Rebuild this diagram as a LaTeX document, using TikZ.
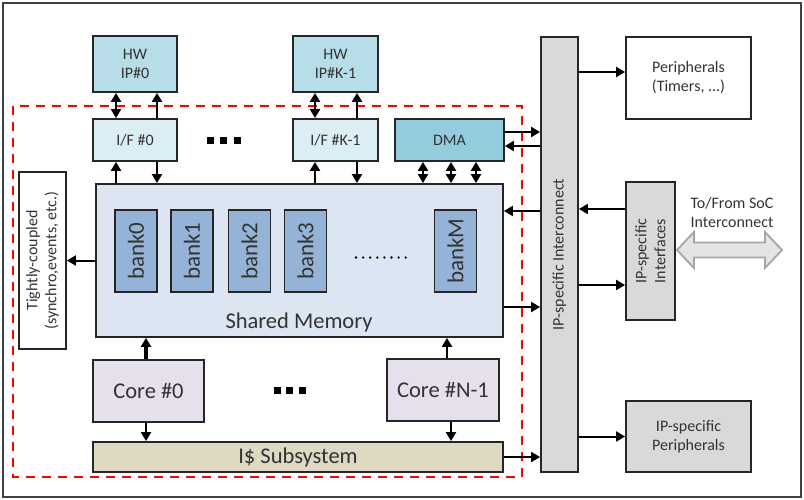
\documentclass[tikz,border=0pt]{standalone}
\usepackage{fontspec}
\setmainfont{Carlito}
\usepackage{tikz}
\usetikzlibrary{arrows.meta}
\usepackage{xcolor}
\definecolor{hwfill}{HTML}{B7DDE8}
\definecolor{iffill}{HTML}{DAEEF3}
\definecolor{dmafill}{HTML}{93CDDD}
\definecolor{memfill}{HTML}{DCE6F2}
\definecolor{bankfill}{HTML}{95B3D7}
\definecolor{corefill}{HTML}{E5E0EC}
\definecolor{icfill}{HTML}{DDD9C3}
\definecolor{grayfill}{HTML}{D9D9D9}
\definecolor{txt}{HTML}{333333}

\begin{document}
\begin{tikzpicture}[x=1pt, y=-1pt, >={Triangle[length=9pt,width=10pt]},
  blk/.style={draw=black!85, line width=1.8pt, inner sep=0pt, align=center, text=txt,
    font=\fontsize{16}{19}\selectfont},
  big/.style={font=\fontsize{22.5}{26}\selectfont},
  arr/.style={line width=2pt, ->},
  darr/.style={line width=2pt, <->}]
  \useasboundingbox (0,0) rectangle (804,499);
  % frame and cluster border
  \draw[black!75, line width=1.7pt] (3,3) rectangle (801,497);
  \draw[red, line width=1.8pt, dash pattern=on 9pt off 7pt] (13,106) rectangle (522,477);
  % hardware IPs and their interfaces
  \node[blk, fill=hwfill, minimum width=84pt, minimum height=56pt] (hw0) at (135,64) {HW\\IP\#0};
  \node[blk, fill=hwfill, minimum width=85pt, minimum height=56pt] (hwK) at (335.5,64) {HW\\IP\#K-1};
  \node[blk, fill=iffill, minimum width=84pt, minimum height=42pt] (if0) at (135,140) {I/F \#0};
  \node[blk, fill=iffill, minimum width=85pt, minimum height=42pt] (ifK) at (335.5,140) {I/F \#K-1};
  \node[blk, fill=dmafill, minimum width=109pt, minimum height=42pt] (dma) at (449.5,140) {DMA};
  \foreach \x in {210,223.5,237}
    \fill (\x-3.5,136.5) rectangle (\x+3.5,143.5);
  % shared memory
  \node[blk, fill=memfill, minimum width=407pt, minimum height=153pt] (mem) at (299.5,260.5) {};
  \node[big, text=txt, anchor=base] (memlbl) at (299,328) {Shared Memory};
  \foreach \x/\lab in {136/bank0, 192/bank1, 249.5/bank2, 305.5/bank3, 455.5/bankM}
    \node[blk, fill=bankfill, rotate=90, minimum width=82pt, minimum height=42pt,
      font=\fontsize{23}{26}\selectfont] (\lab) at (\x,251) {\lab};
  \foreach \i in {0,...,7}
    \fill (356+\i*7.1,257.5) circle (1.3pt);
  % tightly-coupled
  \node[blk, minimum width=47pt, minimum height=177pt] (tc) at (42.5,260.5) {};
  \node[rotate=90, align=center, text=txt, font=\fontsize{16}{19}\selectfont] at (tc) {Tightly-coupled\\(synchro,events, etc.)};
  % cores and I$
  \node[blk, big, fill=corefill, minimum width=111pt, minimum height=62pt] (core0) at (148.5,391) {Core \#0};
  \node[blk, big, fill=corefill, minimum width=112pt, minimum height=62pt] (coreN) at (443,390) {Core \#N-1};
  \foreach \x in {277,289.5,302.5}
    \fill (\x-3.5,386.5) rectangle (\x+3.5,393.5);
  \node[blk, big, fill=icfill, minimum width=410pt, minimum height=30pt] (icache) at (298,457) {I\$ Subsystem};
  % interconnect side
  \node[blk, fill=grayfill, minimum width=37pt, minimum height=435pt] (ic) at (559.5,254.5) {};
  \node[rotate=90, text=txt, font=\fontsize{16}{19}\selectfont] at (ic) {IP-specific Interconnect};
  \node[blk, minimum width=125pt, minimum height=82pt] (per) at (688.5,78) {Peripherals\\(Timers, ...)};
  \node[blk, fill=grayfill, minimum width=49pt, minimum height=138pt] (ifc) at (650.5,251) {};
  \node[rotate=90, align=center, text=txt, font=\fontsize{16}{19}\selectfont] at (ifc) {IP-specific\\Interfaces};
  \node[blk, fill=grayfill, minimum width=125pt, minimum height=71pt] (ipper) at (688.5,436.5) {IP-specific\\Peripherals};
  \node[align=center, text=txt, font=\fontsize{16}{19}\selectfont] (soc) at (732,212) {To/From SoC\\Interconnect};
  \coordinate (socL) at (677,250);
  \coordinate (socR) at (782,250);
  \draw[fill=grayfill!70, draw=black!35, line width=1.8pt, line join=miter]
    (socL) -- ++(17,-18) -- ++(0,10.5) -- ++(71,0) -- ++(0,-10.5) -- (socR)
    -- ++(-17,18) -- ++(0,-10.5) -- ++(-71,0) -- ++(0,10.5) -- cycle;
  % IP <-> I/F <-> memory
  \foreach \a/\b/\dl/\dr in {hw0/if0/-19/22, hwK/ifK/-20.5/21.5} {
    \draw[darr] ([xshift=\dl pt]\b.north) -- ([xshift=\dl pt]\a.south);
    \draw[arr] ([xshift=\dr pt]\b.north) -- ([xshift=\dr pt]\a.south);
    \draw[arr] ([xshift=\dl pt]\b.south |- mem.north) -- ([xshift=\dl pt]\b.south);
    \draw[arr] ([xshift=\dr pt]\b.south) -- ([xshift=\dr pt]\b.south |- mem.north);
  }
  % DMA
  \draw[arr] ([yshift=8pt]dma.east) -- ([yshift=8pt]dma.east -| ic.west);
  \draw[arr] ([yshift=-6pt]dma.east -| ic.west) -- ([yshift=-6pt]dma.east);
  \foreach \dx in {-26.5,1.5,26.5}
    \draw[darr] ([xshift=\dx pt]dma.south) -- ([xshift=\dx pt]dma.south |- mem.north);
  % memory links
  \draw[arr] (mem.west) -- (mem.west -| tc.east);
  \draw[arr] ([yshift=49.5pt]mem.east -| ic.west) -- ([yshift=49.5pt]mem.east);
  \draw[arr] ([yshift=-46.5pt]mem.east) -- ([yshift=-46.5pt]mem.east -| ic.west);
  % cores
  \draw[arr, line width=3.2pt] ([xshift=-2.5pt]core0.north) -- ([xshift=-2.5pt]core0.north |- mem.south);
  \draw[arr, line width=2.6pt] ([xshift=4pt]coreN.north) -- ([xshift=4pt]coreN.north |- mem.south);
  \draw[arr] ([xshift=-2.5pt]core0.south) -- ([xshift=-2.5pt]core0.south |- icache.north);
  \draw[arr] ([xshift=8pt]coreN.south) -- ([xshift=8pt]coreN.south |- icache.north);
  \draw[arr] (icache.east) -- (icache.east -| ic.west);
  % interconnect to the right
  \draw[arr] ([yshift=6pt]per.west -| ic.east) -- ([yshift=6pt]per.west);
  \draw[arr] ([yshift=42pt]ifc.west) -- ([yshift=42pt]ifc.west -| ic.east);
  \draw[arr] ([yshift=-34pt]ifc.west -| ic.east) -- ([yshift=-34pt]ifc.west);
  \draw[arr] (ipper.west -| ic.east) -- (ipper.west);
\end{tikzpicture}
\end{document}
